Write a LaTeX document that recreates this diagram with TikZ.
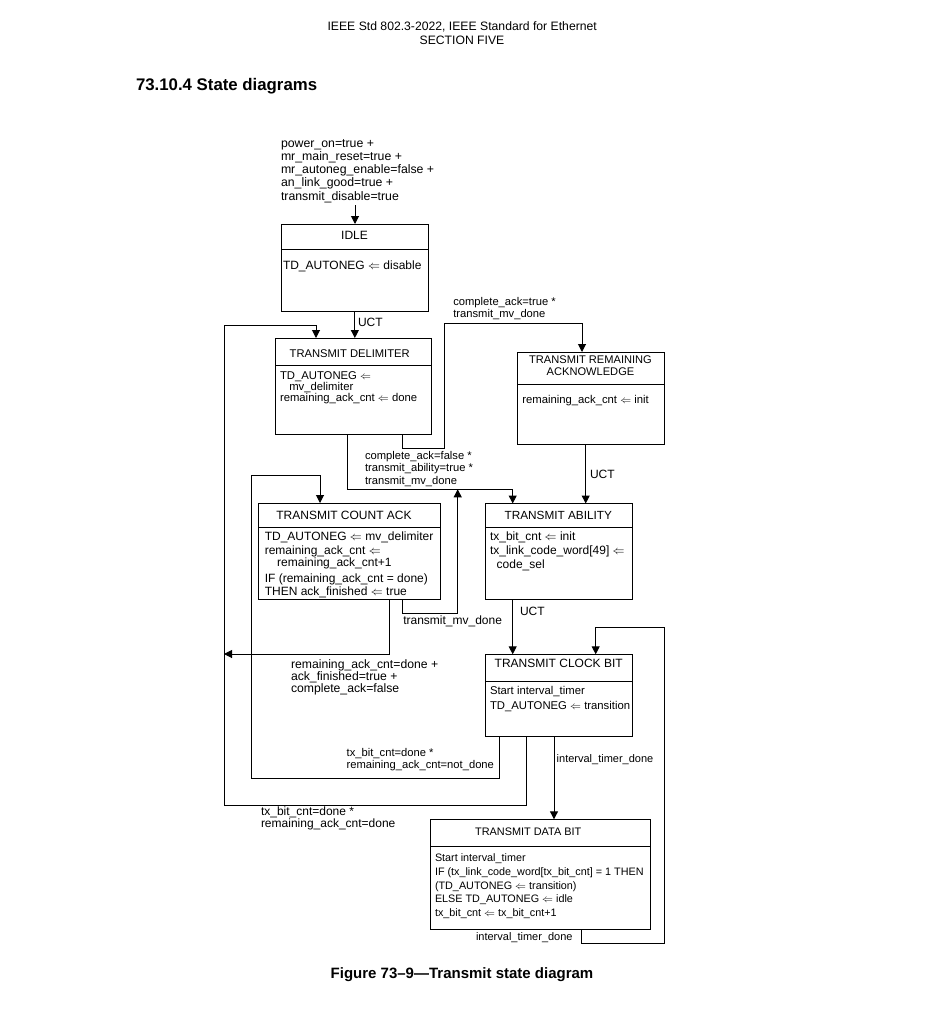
\documentclass[tikz,border=0pt]{standalone}
\usepackage{fontspec}
\setmainfont{Liberation Sans}
\usetikzlibrary{arrows.meta}
\newcommand\myfz[2]{\fontsize{#1}{#2}\selectfont}
\begin{document}
\begin{tikzpicture}[x=1pt,y=-1pt,
  every node/.style={inner sep=0pt, outer sep=0pt},
  lbl/.style={anchor=base west, align=left},
  ttl/.style={anchor=base, align=center},
  statebox/.style={draw, line width=1pt, rectangle, inner sep=0pt, outer sep=0pt},
  wire/.style={line width=1pt},
  arr/.style={wire, -{Triangle[length=8pt,width=8pt]}},
]
\useasboundingbox (0,0) rectangle (933,1012);

% header
\node[font=\myfz{12.2}{14}, anchor=base] (hdr1) at (462.2,30) {IEEE Std 802.3-2022, IEEE Standard for Ethernet};
\node[font=\myfz{12.2}{14}, anchor=base] (hdr2) at (462,44.3) {SECTION FIVE};
\node[font=\myfz{16.8}{18}\bfseries, anchor=base west] (sec) at (136,90) {73.10.4 State diagrams};
\node[font=\myfz{15}{18}\bfseries, anchor=base] (cap) at (462,978) {Figure 73--9---Transmit state diagram};

% states (multi-line nodes are placed by the baseline of their last line)
\node[statebox, minimum width=147.7pt, minimum height=87pt] (idle) at (354.85,267.5) {};
\draw[wire] (idle.west |- 0,249) -- (idle.east |- 0,249);
\node[ttl, font=\myfz{12}{12}] (idleT) at (354.5,239.3) {IDLE};
\node[lbl, font=\myfz{12}{12}] (idleB) at (283,269.3) {TD\_AUTONEG $\Leftarrow$ disable};

\node[statebox, minimum width=156pt, minimum height=96pt] (td) at (353,386) {};
\draw[wire] (td.west |- 0,365) -- (td.east |- 0,365);
\node[ttl, font=\myfz{11.2}{12}] (tdT) at (349.7,357.5) {TRANSMIT DELIMITER};
\node[lbl, font=\myfz{11.3}{11.4}] (tdB) at (280,401.8) {TD\_AUTONEG $\Leftarrow$\\\hspace*{9.3pt}mv\_delimiter\\remaining\_ack\_cnt $\Leftarrow$ done};

\node[statebox, minimum width=147pt, minimum height=92pt] (tra) at (590.5,398) {};
\draw[wire] (tra.west |- 0,384) -- (tra.east |- 0,384);
\node[ttl, font=\myfz{11.1}{12}] (traT) at (590.5,375.2) {TRANSMIT REMAINING\\ACKNOWLEDGE};
\node[lbl, font=\myfz{11.3}{12}] (traB) at (522.3,403) {remaining\_ack\_cnt $\Leftarrow$ init};

\node[statebox, minimum width=182.7pt, minimum height=96pt] (tca) at (349.35,551) {};
\draw[wire] (tca.west |- 0,527) -- (tca.east |- 0,527);
\node[ttl, font=\myfz{12}{12}] (tcaT) at (344,519.4) {TRANSMIT COUNT ACK};
\node[lbl, font=\myfz{12}{12}] (tcaB) at (264.8,595.8) {TD\_AUTONEG $\Leftarrow$ mv\_delimiter\\[2pt]remaining\_ack\_cnt $\Leftarrow$\\\hspace*{12.4pt}remaining\_ack\_cnt+1\\[4pt]IF (remaining\_ack\_cnt = done)\\[1pt]THEN ack\_finished $\Leftarrow$ true};

\node[statebox, minimum width=146.6pt, minimum height=95.5pt] (ta) at (559,551.25) {};
\draw[wire] (ta.west |- 0,527.7) -- (ta.east |- 0,527.7);
\node[ttl, font=\myfz{11.8}{12}] (taT) at (558.3,519.4) {TRANSMIT ABILITY};
\node[lbl, font=\myfz{12}{13.8}] (taB) at (490,568.4) {tx\_bit\_cnt $\Leftarrow$ init\\tx\_link\_code\_word[49] $\Leftarrow$\\\hspace*{6.7pt}code\_sel};

\node[statebox, minimum width=147pt, minimum height=82.4pt] (tcb) at (559.2,695.5) {};
\draw[wire] (tcb.west |- 0,681) -- (tcb.east |- 0,681);
\node[ttl, font=\myfz{12}{12}] (tcbT) at (558.7,667.6) {TRANSMIT CLOCK BIT};
\node[lbl, font=\myfz{11.3}{15}] (tcbB) at (490,709.8) {Start interval\_timer\\TD\_AUTONEG $\Leftarrow$ transition};

\node[statebox, minimum width=220.7pt, minimum height=110pt] (tdb) at (540.35,874.3) {};
\draw[wire] (tdb.west |- 0,846.7) -- (tdb.east |- 0,846.7);
\node[ttl, font=\myfz{10.9}{12}] (tdbT) at (528.2,835.8) {TRANSMIT DATA BIT};
\node[lbl, font=\myfz{10.8}{13.85}] (tdbB) at (435,916.7) {Start interval\_timer\\IF (tx\_link\_code\_word[tx\_bit\_cnt] = 1 THEN\\(TD\_AUTONEG $\Leftarrow$ transition)\\ELSE TD\_AUTONEG $\Leftarrow$ idle\\tx\_bit\_cnt $\Leftarrow$ tx\_bit\_cnt+1};

% entry
\node[lbl, font=\myfz{12.3}{13.25}] (cond) at (281,200) {power\_on=true +\\mr\_main\_reset=true +\\mr\_autoneg\_enable=false +\\an\_link\_good=true +\\transmit\_disable=true};
\coordinate (condend) at (355,205);
\draw[arr] (condend) -- (idle.north -| condend);

% IDLE -> TD
\draw[arr] (idle.south) -- (idle.south |- td.north);
\node[lbl, font=\myfz{12}{12}] (uct1) at (358,326) {UCT};

% TCB -> TD (outer loop)
\draw[arr] (tcb.south -| 526,0) -- (526,805) -- (224,805) -- (224,325) -- (316,325) -- (td.north -| 316,0);
\node[lbl, font=\myfz{12}{11.7}] (l5) at (261,827.4) {tx\_bit\_cnt=done *\\remaining\_ack\_cnt=done};

% TCA -> left line
\coordinate (lefthit) at (224,654);
\draw[arr] (tca.south -| 389,0) -- (389,654) -- (lefthit);
\node[lbl, font=\myfz{12.2}{12}] (l3) at (291,692) {remaining\_ack\_cnt=done +\\ack\_finished=true +\\complete\_ack=false};

% TD -> TA
\draw[arr] (td.south -| 347.7,0) -- (347.7,489.3) -- (512.7,489.3) -- (ta.north -| 512.7,0);
\node[lbl, font=\myfz{11.2}{12.6}] (l2) at (365,484.2) {complete\_ack=false *\\transmit\_ability=true *\\transmit\_mv\_done};

% TD -> TRA
\draw[arr] (td.south -| 402.7,0) -- (402.7,448) -- (444.3,448) -- (444.3,323.5) -- (582,323.5) -- (tra.north -| 582,0);
\node[lbl, font=\myfz{11.2}{12.3}] (l1) at (453.3,317.3) {complete\_ack=true *\\transmit\_mv\_done};

% TRA -> TA
\draw[arr] (tra.south -| 585.7,0) -- (ta.north -| 585.7,0);
\node[lbl, font=\myfz{12}{12}] (uct2) at (590,478.3) {UCT};

% TCA -> TA (joins)
\coordinate (midhit) at (457.7,489.3);
\draw[arr] (tca.south -| 402.7,0) -- (402.7,613.3) -- (457.7,613.3) -- (midhit);
\node[lbl, font=\myfz{12}{12}] (l4) at (403.3,624) {transmit\_mv\_done};

% TA -> TCB
\draw[arr] (ta.south -| 512.7,0) -- (tcb.north -| 512.7,0);
\node[lbl, font=\myfz{12}{12}] (uct3) at (520,615.7) {UCT};

% TCB -> TCA
\draw[arr] (tcb.south -| 499.3,0) -- (499.3,778) -- (251,778) -- (251,475.7) -- (320,475.7) -- (tca.north -| 320,0);
\node[lbl, font=\myfz{11.2}{12}] (l6) at (346.7,768.7) {tx\_bit\_cnt=done *\\remaining\_ack\_cnt=not\_done};

% TCB -> TDB
\draw[arr] (tcb.south -| 554,0) -- (tdb.north -| 554,0);
\node[lbl, font=\myfz{11}{12}] (l7) at (556.7,762.3) {interval\_timer\_done};

% TDB -> TCB
\draw[arr] (tdb.south -| 581.7,0) -- (581.7,943) -- (664.5,943) -- (664.5,627) -- (595.7,627) -- (tcb.north -| 595.7,0);
\node[lbl, font=\myfz{11}{12}] (l8) at (476,940.7) {interval\_timer\_done};
\end{tikzpicture}
\end{document}
